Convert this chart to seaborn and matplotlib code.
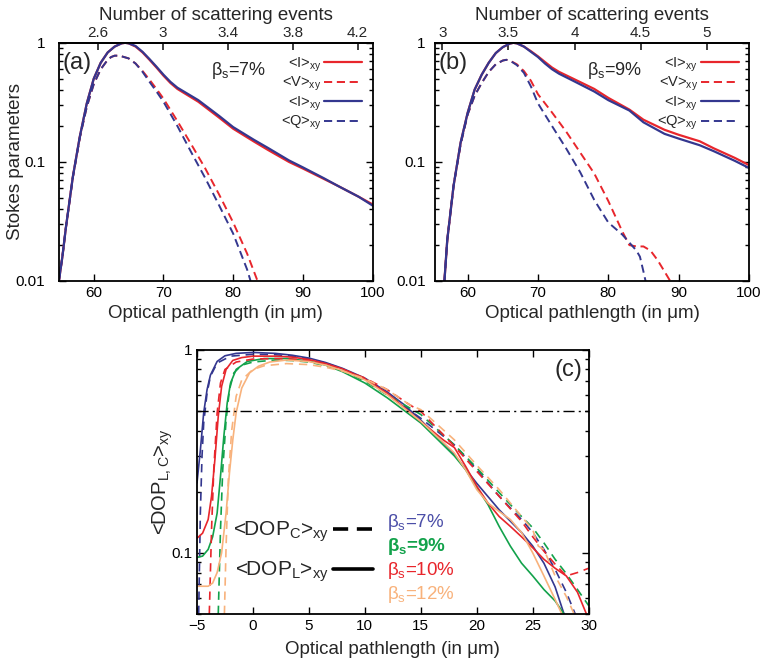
import numpy as np
import matplotlib
matplotlib.use('Agg')
import matplotlib.pyplot as plt
from matplotlib.lines import Line2D
from matplotlib.ticker import FuncFormatter, NullFormatter, LogLocator
import seaborn as sns

# ---------------- data ----------------
# panel (a), beta_s = 7%
path_a_I = [55, 55.5, 56, 57, 58, 59, 60, 61, 62, 63, 64, 64.5, 65, 66, 67, 68, 69, 70, 71, 72, 75, 78, 80, 83, 85, 88, 90, 93, 95, 98, 100]
I_red_a = [0.01, 0.016, 0.028, 0.075, 0.163, 0.31, 0.5, 0.68, 0.83, 0.93, 0.99, 1.0, 0.99, 0.93, 0.83, 0.72, 0.62, 0.53, 0.46, 0.41, 0.32, 0.235, 0.19, 0.148, 0.126, 0.1, 0.088, 0.072, 0.063, 0.051, 0.044]
I_blue_a = [0.01, 0.016, 0.028, 0.075, 0.163, 0.31, 0.5, 0.68, 0.83, 0.93, 0.99, 1.0, 0.99, 0.94, 0.84, 0.73, 0.63, 0.54, 0.47, 0.42, 0.33, 0.243, 0.196, 0.153, 0.131, 0.103, 0.09, 0.073, 0.063, 0.051, 0.043]
path_a_V = [55, 55.5, 56, 57, 58, 59, 60, 61, 62, 62.5, 63, 63.5, 64, 65, 66, 67, 68, 69, 70, 72, 74, 76, 78, 80, 82, 83.5]
V_red_a = [0.01, 0.016, 0.028, 0.074, 0.16, 0.29, 0.45, 0.6, 0.72, 0.76, 0.78, 0.78, 0.77, 0.74, 0.67, 0.58, 0.49, 0.41, 0.34, 0.22, 0.14, 0.088, 0.053, 0.031, 0.017, 0.01]
path_a_Q = [55, 55.5, 56, 57, 58, 59, 60, 61, 62, 62.5, 63, 63.5, 64, 65, 66, 67, 68, 69, 70, 72, 74, 76, 78, 80, 82, 82.5]
Q_blue_a = [0.01, 0.016, 0.028, 0.074, 0.16, 0.29, 0.45, 0.6, 0.72, 0.76, 0.78, 0.78, 0.77, 0.74, 0.67, 0.57, 0.47, 0.39, 0.32, 0.2, 0.12, 0.073, 0.043, 0.025, 0.0125, 0.01]

# panel (b), beta_s = 9%
path_b_I = [56.7, 57.1, 58, 59, 60, 61, 62, 63, 64, 65, 66, 66.5, 67, 68, 69, 70, 71, 72, 73, 75, 78, 80, 83, 85, 88, 90, 93, 95, 98, 100]
I_red_b = [0.01, 0.022, 0.063, 0.145, 0.258, 0.405, 0.54, 0.68, 0.82, 0.92, 0.985, 1.0, 0.99, 0.93, 0.85, 0.77, 0.69, 0.62, 0.57, 0.5, 0.41, 0.345, 0.275, 0.226, 0.186, 0.169, 0.149, 0.13, 0.108, 0.094]
I_blue_b = [0.01, 0.022, 0.063, 0.145, 0.258, 0.405, 0.54, 0.68, 0.82, 0.92, 0.985, 1.0, 0.99, 0.93, 0.84, 0.76, 0.67, 0.6, 0.55, 0.48, 0.39, 0.33, 0.27, 0.215, 0.172, 0.157, 0.138, 0.123, 0.102, 0.089]
path_b_V = [56.7, 57.1, 58, 59, 60, 61, 62, 63, 64, 65, 65.5, 66, 67, 68, 69, 70, 72, 74, 76, 78, 80, 82, 83, 84, 85, 86, 87, 88, 88.8]
V_red_b = [0.01, 0.022, 0.063, 0.14, 0.25, 0.36, 0.46, 0.57, 0.66, 0.71, 0.72, 0.71, 0.66, 0.58, 0.48, 0.37, 0.26, 0.18, 0.12, 0.08, 0.047, 0.026, 0.02, 0.0195, 0.0195, 0.018, 0.015, 0.012, 0.01]
path_b_Q = [56.7, 57.1, 58, 59, 60, 61, 62, 63, 64, 65, 65.5, 66, 67, 68, 69, 70, 72, 74, 76, 78, 80, 82, 83, 84, 84.5, 85, 85.3]
Q_blue_b = [0.01, 0.022, 0.063, 0.14, 0.25, 0.36, 0.46, 0.57, 0.66, 0.71, 0.72, 0.71, 0.65, 0.56, 0.43, 0.31, 0.2, 0.13, 0.082, 0.048, 0.031, 0.0245, 0.021, 0.018, 0.016, 0.012, 0.01]

# panel (c): DOP_L (solid) and DOP_C (dashed) for four beta_s
x_L7 = [-5, -4.7, -4.4, -4.1, -3.8, -3.2, -2.5, -1.5, 0, 2, 3.5, 5, 6.5, 8, 10, 12, 13.5, 15, 17, 18, 20, 22, 24, 25, 26, 27, 27.8]
L7 = [0.221, 0.32, 0.49, 0.636, 0.75, 0.876, 0.934, 0.96, 0.97, 0.96, 0.94, 0.91, 0.865, 0.81, 0.725, 0.62, 0.537, 0.45, 0.348, 0.305, 0.22, 0.163, 0.126, 0.108, 0.089, 0.068, 0.05]
x_C7 = [-4.85, -4.7, -4.55, -4.4, -4.1, -3.8, -3.2, -2, 0, 2, 3.5, 5, 6.5, 8, 10, 12, 15, 18, 20, 22, 24, 25, 26, 27, 28, 28.8]
C7 = [0.05, 0.157, 0.3, 0.436, 0.612, 0.74, 0.86, 0.93, 0.95, 0.945, 0.93, 0.9, 0.86, 0.805, 0.71, 0.6, 0.46, 0.34, 0.257, 0.19, 0.146, 0.126, 0.104, 0.083, 0.064, 0.05]

x_L9 = [-5, -4.5, -4, -3.6, -3.2, -2.9, -2.6, -2.3, -2, -1.5, -0.5, 1, 3, 5, 6.5, 8, 10, 12, 15, 17, 18, 19, 20, 21, 22, 23, 24, 25, 26, 27, 27.8]
L9 = [0.095, 0.0964, 0.104, 0.12, 0.157, 0.238, 0.375, 0.547, 0.686, 0.8, 0.876, 0.905, 0.905, 0.88, 0.84, 0.78, 0.686, 0.58, 0.436, 0.34, 0.3, 0.257, 0.21, 0.173, 0.135, 0.108, 0.089, 0.077, 0.066, 0.058, 0.05]
x_C9 = [-3.1, -2.9, -2.7, -2.4, -2.1, -1.7, -1, 0, 2, 3.5, 5, 6.5, 8, 10, 12, 15, 18, 20, 22, 24, 25, 26, 27, 28, 29, 30]
C9 = [0.05, 0.13, 0.257, 0.45, 0.636, 0.77, 0.84, 0.87, 0.89, 0.885, 0.87, 0.835, 0.79, 0.7, 0.6, 0.48, 0.34, 0.262, 0.198, 0.151, 0.133, 0.112, 0.093, 0.079, 0.066, 0.055]

x_L10 = [-5, -4.5, -4, -3.7, -3.4, -3.1, -2.8, -2.4, -1.8, -1, 0, 2, 3.5, 5, 6.5, 8, 10, 12, 15, 17, 18, 19, 20, 21, 22, 23, 24, 25, 26, 27, 28, 29, 29.8]
L10 = [0.118, 0.125, 0.146, 0.19, 0.288, 0.47, 0.66, 0.8, 0.886, 0.915, 0.93, 0.93, 0.92, 0.895, 0.855, 0.805, 0.72, 0.61, 0.444, 0.36, 0.33, 0.267, 0.213, 0.176, 0.151, 0.135, 0.12, 0.106, 0.093, 0.084, 0.077, 0.064, 0.05]
x_C10 = [-3.9, -3.7, -3.5, -3.2, -2.9, -2.5, -1.5, 0, 2, 3.5, 5, 6.5, 8, 10, 12, 14, 15, 18, 20, 22, 24, 25, 26, 27, 28, 29, 30]
C10 = [0.05, 0.13, 0.257, 0.488, 0.686, 0.8, 0.87, 0.9, 0.905, 0.9, 0.885, 0.85, 0.8, 0.726, 0.636, 0.536, 0.497, 0.335, 0.252, 0.19, 0.143, 0.12, 0.102, 0.088, 0.077, 0.08, 0.084]

x_L12 = [-5, -4, -3.6, -3.2, -2.8, -2.4, -2.1, -1.8, -1.5, -1, -0.3, 0.5, 1.5, 3, 5, 6.5, 8, 10, 12, 15, 17, 18, 19, 20, 21, 22, 23, 24, 25, 26, 27, 27.6]
L12 = [0.0685, 0.0685, 0.071, 0.08, 0.1, 0.157, 0.247, 0.36, 0.49, 0.648, 0.77, 0.83, 0.87, 0.89, 0.875, 0.84, 0.79, 0.71, 0.6, 0.444, 0.35, 0.31, 0.257, 0.205, 0.176, 0.16, 0.146, 0.126, 0.1, 0.077, 0.059, 0.05]
x_C12 = [-2.55, -2.4, -2.2, -1.9, -1.5, -1, 0, 1, 3, 5, 6.5, 8, 10, 12, 14, 15, 18, 20, 22, 23, 24, 25, 25.5, 26, 27, 28, 28.7]
C12 = [0.05, 0.108, 0.23, 0.4, 0.59, 0.71, 0.8, 0.834, 0.855, 0.845, 0.82, 0.785, 0.72, 0.636, 0.536, 0.507, 0.36, 0.27, 0.205, 0.176, 0.151, 0.13, 0.108, 0.104, 0.077, 0.061, 0.05]

betas = ['7%', '9%', '10%', '12%']

# ---------------- style ----------------
sns.set_theme(style='ticks')
plt.rcParams['font.family'] = ['Liberation Sans', 'DejaVu Sans']
plt.rcParams['mathtext.fontset'] = 'custom'
plt.rcParams['mathtext.rm'] = 'Liberation Sans'
plt.rcParams['mathtext.it'] = 'Liberation Sans:italic'
plt.rcParams['mathtext.bf'] = 'Liberation Sans:bold'
plt.rcParams['lines.dashed_pattern'] = [4.2, 2.4]
plt.rcParams['axes.linewidth'] = 1.3
plt.rcParams['axes.edgecolor'] = 'black'

RED = '#e8262c'
BLUE = '#34378f'
GREEN = '#12a24b'
ORANGE = '#f8b27c'

fig = plt.figure(figsize=(7.65, 6.69), dpi=100)

fmt = FuncFormatter(lambda v, p: '%g' % v)


def style_axis(ax, xlim, ylim, ypad):
    ax.set_yscale('log')
    ax.set_xlim(*xlim)
    ax.set_ylim(*ylim)
    ax.yaxis.set_major_formatter(fmt)
    ax.yaxis.set_minor_formatter(NullFormatter())
    ax.yaxis.set_minor_locator(LogLocator(subs=np.arange(2, 10)))
    ax.tick_params(which='both', direction='in', right=True, labelsize=11,
                   colors='black', width=1.0)
    ax.tick_params(which='major', length=5)
    ax.tick_params(which='minor', length=3)
    ax.tick_params(axis='y', pad=ypad)
    ax.set_xlabel('Optical pathlength (in μm)', fontsize=13.5, labelpad=4)


def stokes_panel(rect, pI, Ired, Iblue, pV, Vred, pQ, Qblue, xlim, n_scale, top_ticks, tag, beta, ypad):
    ax = fig.add_axes(rect)
    sns.lineplot(x=pI, y=Ired, ax=ax, color=RED, lw=1.6, sort=False, label=r'<I>$_{\rm xy}$')
    sns.lineplot(x=pV, y=Vred, ax=ax, color=RED, lw=1.4, linestyle='--', sort=False, label=r'<V>$_{\rm xy}$')
    sns.lineplot(x=pI, y=Iblue, ax=ax, color=BLUE, lw=1.6, sort=False, label=r'<I>$_{\rm xy}$')
    sns.lineplot(x=pQ, y=Qblue, ax=ax, color=BLUE, lw=1.4, linestyle='--', sort=False, label=r'<Q>$_{\rm xy}$')
    style_axis(ax, xlim, (0.01, 1), ypad)
    ax.set_xticks([60, 70, 80, 90, 100])
    ax.set_yticks([0.01, 0.1, 1])
    ax.legend(loc='upper right', bbox_to_anchor=(1.0, 0.99), frameon=False, markerfirst=False,
              fontsize=10.5, handlelength=2.6, labelspacing=0.08, handletextpad=0.2,
              borderaxespad=0.3)
    ax.text(0.01, 0.915, tag, transform=ax.transAxes, fontsize=17, va='center', ha='left')
    ax.text(0.485, 0.885, 'β$_{\\rm s}$=' + beta, transform=ax.transAxes, fontsize=13,
            va='center', ha='left')
    sec = ax.secondary_xaxis('top', functions=(lambda L: L / n_scale, lambda n: n * n_scale))
    sec.set_xticks(top_ticks)
    sec.xaxis.set_major_formatter(fmt)
    sec.tick_params(direction='in', labelsize=11, length=5, pad=2)
    sec.set_xlabel('Number of scattering events', fontsize=13.5, labelpad=4)
    return ax


ax_a = stokes_panel([0.077, 0.580, 0.410, 0.356], path_a_I, I_red_a, I_blue_a, path_a_V, V_red_a,
                    path_a_Q, Q_blue_a, (55, 100), 23.3, [2.6, 3, 3.4, 3.8, 4.2], '(a)', '7%', 10)
ax_a.set_ylabel('Stokes parameters', fontsize=13.5)
ax_a.yaxis.set_label_coords(-0.11, 0.5)
ax_b = stokes_panel([0.569, 0.580, 0.410, 0.356], path_b_I, I_red_b, I_blue_b, path_b_V, V_red_b,
                    path_b_Q, Q_blue_b, (55.4, 100), 18.8, [3, 3.5, 4, 4.5, 5], '(b)', '9%', 7)

# ---------------- panel (c) ----------------
ax_c = fig.add_axes([0.2575, 0.0822, 0.512, 0.395])
curves = [
    (x_L7, L7, x_C7, C7, BLUE),
    (x_L9, L9, x_C9, C9, GREEN),
    (x_L10, L10, x_C10, C10, RED),
    (x_L12, L12, x_C12, C12, ORANGE),
]
for xl, yl, xc, yc, col in curves:
    sns.lineplot(x=xl, y=yl, ax=ax_c, color=col, lw=1.2, sort=False)
    sns.lineplot(x=xc, y=yc, ax=ax_c, color=col, lw=1.2, linestyle=(0, (5, 3.5)), sort=False)
ax_c.axhline(0.5, color='black', lw=1.0, linestyle=(0, (8, 3, 1.5, 3)))
style_axis(ax_c, (-5, 30), (0.05, 1), 3)
ax_c.set_yticks([0.1, 1])
ax_c.set_xticks(np.arange(-5, 31, 5))
ax_c.tick_params(which='both', top=True)
ax_c.xaxis.labelpad = 6
ax_c.set_ylabel(r'<DOP$_{\rm L,C}$>$_{\rm xy}$', fontsize=14.5)
ax_c.yaxis.set_label_coords(-0.056, 0.5)
ax_c.text(0.985, 0.924, '(c)', transform=ax_c.transAxes, fontsize=17, va='center', ha='right')

handles = [Line2D([], [], color='black', lw=2.6, linestyle='--'),
           Line2D([], [], color='black', lw=2.6)]
labels = [r'<DOP$_{\rm C}$>$_{\rm xy}$', r'<DOP$_{\rm L}$>$_{\rm xy}$']
ax_c.legend(handles, labels, loc='center right', bbox_to_anchor=(0.47, 0.235), frameon=False,
            markerfirst=False, fontsize=15, handlelength=1.9, labelspacing=0.75,
            handletextpad=0.2, borderaxespad=0)

beta_cols = [('#4c4fa8', 'normal'), (GREEN, 'bold'), (RED, 'normal'), (ORANGE, 'normal')]
for i, b in enumerate(betas):
    col, wt = beta_cols[i]
    sub = r'$_{\mathbf{s}}$' if wt == 'bold' else r'$_{\rm s}$'
    ax_c.text(0.485, 0.348 - i * 0.092, 'β' + sub + '=' + b, transform=ax_c.transAxes,
              fontsize=13.5, color=col, weight=wt, va='center', ha='left')

sns.despine(fig=fig, top=False, right=False)
fig.savefig('out.png', dpi=100)
